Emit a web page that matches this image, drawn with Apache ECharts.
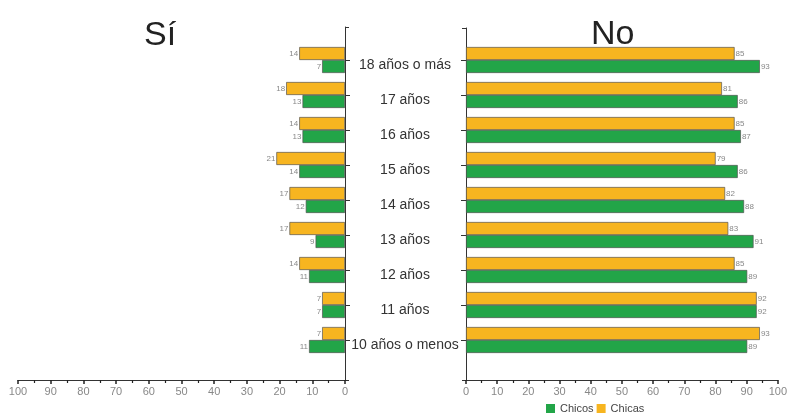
<!DOCTYPE html>
<html><head><meta charset="utf-8">
<script src="https://cdn.jsdelivr.net/npm/echarts@6/dist/echarts.min.js"></script>
<style>html,body{margin:0;padding:0;background:#fff}#c{width:790px;height:418px}</style>
</head><body><div id="c"></div>
<script>
const categories = ['18 años o más','17 años','16 años','15 años','14 años','13 años','12 años','11 años','10 años o menos'];
const siChicas = [14,18,14,21,17,17,14,7,7];
const siChicos = [7,13,13,14,12,9,11,7,11];
const noChicas = [85,81,85,79,82,83,85,92,93];
const noChicos = [93,86,87,86,88,91,89,92,89];
const axisTicks = [0,10,20,30,40,50,60,70,80,90,100];

const ORANGE = '#F7B520', GREEN = '#22A548';
const FONT = '"Liberation Sans", Arial, sans-serif';
const chart = echarts.init(document.getElementById('c'));

function frameX(gi, inverse){
  return {gridIndex: gi, type:'value', min:axisTicks[0], max:axisTicks[axisTicks.length-1], interval:10, inverse:inverse,
    axisLine:{show:true, lineStyle:{color:'#333', width:1}},
    axisTick:{show:true, length:4, lineStyle:{color:'#222', width:1.5}},
    minorTick:{show:true, splitNumber:2, length:3, lineStyle:{color:'#222', width:1.2}},
    axisLabel:{fontSize:11, color:'#888', margin:6, fontFamily:FONT},
    splitLine:{show:false}};
}
function frameY(gi, pos){
  return {gridIndex: gi, type:'value', min:0, max:1, interval:1, position:pos,
    axisLine:{show:true, lineStyle:{color:'#333', width:1}},
    axisTick:{show:true, length:4, lineStyle:{color:'#333'}},
    axisLabel:{show:false}, splitLine:{show:false}};
}
function dataX(gi, inverse){
  return {gridIndex: gi, type:'value', min:0, max:100, inverse:inverse, show:false};
}
function dataY(gi, pos, showLabels){
  return {gridIndex: gi, type:'category', data:categories, inverse:true, position:pos,
    axisLine:{show:false},
    axisTick:{show:true, alignWithLabel:true, length:5, lineStyle:{color:'#333'}},
    axisLabel:{show:showLabels, margin:60, align:'center', verticalAlign:'top', lineHeight:10,
      fontSize:14, color:'#333', fontFamily:FONT}};
}
function barSeries(name, data, xi, color, labelPos){
  return {name:name, type:'bar', xAxisIndex:xi, yAxisIndex:xi, data:data,
    barWidth:13, barGap:'0%',
    itemStyle:{color:color, borderColor:'#555', borderWidth:0.7},
    label:{show:true, position:labelPos, distance:1, fontSize:8, color:'#888', fontFamily:FONT}};
}

chart.setOption({
  animation:false,
  backgroundColor:'#fff',
  title:[
    {text:'Sí', left:139, top:14, textStyle:{fontSize:34, fontWeight:'normal', color:'#222', fontFamily:FONT}},
    {text:'No', left:586, top:13, textStyle:{fontSize:34, fontWeight:'normal', color:'#222', fontFamily:FONT}}
  ],
  legend:{data:['Chicos','Chicas'], left:541, bottom:-1, icon:'rect', itemWidth:9, itemHeight:9, itemGap:3,
    itemStyle:{borderWidth:0},
    textStyle:{fontSize:11, color:'#444', fontFamily:FONT}},
  grid:[
    {left:18, width:327, top:27, height:353},
    {left:18, width:327, top:42.5, height:315},
    {left:466, width:316, top:28, height:352},
    {left:466, width:316, top:42.5, height:315}
  ],
  xAxis:[frameX(0,true), dataX(1,true), frameX(2,false), dataX(3,false)],
  yAxis:[frameY(0,'right'), dataY(1,'right',true), frameY(2,'left'), dataY(3,'left',false)],
  series:[
    barSeries('Chicas', siChicas, 1, ORANGE, 'left'),
    barSeries('Chicos', siChicos, 1, GREEN, 'left'),
    barSeries('Chicas', noChicas, 3, ORANGE, 'right'),
    barSeries('Chicos', noChicos, 3, GREEN, 'right')
  ]
});
</script></body></html>
